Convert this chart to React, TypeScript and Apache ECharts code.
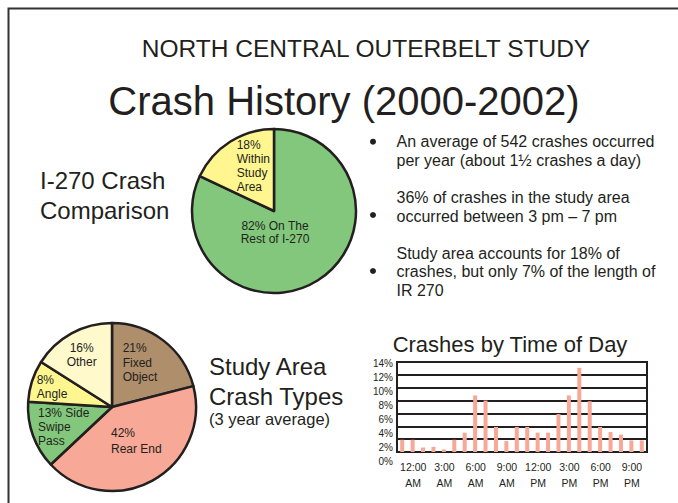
import React, { useEffect, useRef } from "react";
import * as echarts from "echarts";

// ---- Data ----
const comparisonNames = ["On The Rest of I-270", "Within Study Area"];
const comparisonValues = [82, 18];

const crashTypeNames = ["Fixed Object", "Rear End", "Side Swipe Pass", "Angle", "Other"];
const crashTypeValues = [21, 42, 13, 8, 16];

const hours = [
  "12 AM", "1 AM", "2 AM", "3 AM", "4 AM", "5 AM", "6 AM", "7 AM", "8 AM", "9 AM", "10 AM", "11 AM",
  "12 PM", "1 PM", "2 PM", "3 PM", "4 PM", "5 PM", "6 PM", "7 PM", "8 PM", "9 PM", "10 PM", "11 PM",
];
const crashShareByHour = [
  1.9, 1.9, 0.7, 0.8, 0.4, 1.9, 3.0, 8.8, 8.0, 3.9, 1.7, 3.9,
  3.9, 3.0, 3.0, 5.9, 8.8, 13.1, 7.9, 3.9, 3.1, 2.7, 1.8, 1.8,
];
const timeTickLabels = ["12:00\nAM", "3:00\nAM", "6:00\nAM", "9:00\nAM", "12:00\nPM", "3:00\nPM", "6:00\nPM", "9:00\nPM"];

const bulletTexts = [
  "An average of 542 crashes occurred\nper year (about 1½ crashes a day)",
  "36% of crashes in the study area\noccurred between 3 pm – 7 pm",
  "Study area accounts for 18% of\ncrashes, but only 7% of the length of\nIR 270",
];

// ---- Styles ----
const INK = "#231F20";
const FONT = "'Liberation Sans', Arial, Helvetica, sans-serif";
const GREEN = "#82C77B";
const YELLOW = "#FFF68F";
const BROWN = "#AE8E6B";
const SALMON = "#F7A896";
const CREAM = "#FFF9CC";

function text(x: number, y: number, t: string, size: number, opts: any = {}) {
  return {
    type: "text",
    x,
    y,
    z: 100,
    silent: true,
    style: {
      text: t,
      fill: INK,
      font: `${size}px ${FONT}`,
      align: opts.align || "left",
      verticalAlign: opts.verticalAlign || "middle",
      lineHeight: opts.lineHeight,
    },
  };
}

export default function App() {
  const ref = useRef<HTMLDivElement>(null);

  useEffect(() => {
    if (!ref.current) return;
    const chart = echarts.init(ref.current, undefined, { renderer: "svg" });

    const cmpLabels = [
      `${comparisonValues[0]}% On The\nRest of I-270`,
      `${comparisonValues[1]}%\nWithin\nStudy\nArea`,
    ];
    const typeLabels = [
      `${crashTypeValues[0]}%\nFixed\nObject`,
      `${crashTypeValues[1]}%\nRear End`,
      `${crashTypeValues[2]}% Side\nSwipe\nPass`,
      `${crashTypeValues[3]}%\nAngle`,
      `${crashTypeValues[4]}%\nOther`,
    ];

    const bulletY = [141.7, 215, 271];
    const paraTop = [132.5, 188.5, 243.8];

    const graphics: any[] = [
      {
        type: "polyline",
        silent: true,
        z: 100,
        shape: { points: [[8.5, 503], [8.5, 8.5], [678, 8.5]] },
        style: { stroke: "#333", lineWidth: 2, fill: null },
      },
      text(366, 48, "NORTH CENTRAL OUTERBELT STUDY", 24.5, { align: "center" }),
      text(344, 100.5, "Crash History (2000-2002)", 40, { align: "center" }),
      text(40, 165, "I-270 Crash\nComparison", 24, { lineHeight: 30, verticalAlign: "top" }),
      text(209, 366.5, "Study Area", 24),
      text(209, 396.5, "Crash Types", 24),
      text(209, 419.3, "(3 year average)", 16.5),
      text(510, 344, "Crashes by Time of Day", 22, { align: "center" }),
      // pie 1 labels
      text(275, 219.3, cmpLabels[0], 12, { align: "center", verticalAlign: "top", lineHeight: 13.4 }),
      text(236.7, 138, cmpLabels[1], 12, { verticalAlign: "top", lineHeight: 13.9 }),
      // pie 2 labels
      text(122.7, 341, typeLabels[0], 12, { verticalAlign: "top", lineHeight: 14.5 }),
      text(111, 425.5, typeLabels[1], 12, { verticalAlign: "top", lineHeight: 15.5 }),
      text(38, 405.7, typeLabels[2], 12, { verticalAlign: "top", lineHeight: 14 }),
      text(36.7, 373, typeLabels[3], 12, { verticalAlign: "top", lineHeight: 14 }),
      text(81.7, 341, typeLabels[4], 12, { align: "center", verticalAlign: "top", lineHeight: 14 }),
    ];

    bulletTexts.forEach((t, i) => {
      graphics.push(text(396.5, paraTop[i], t, 16, { verticalAlign: "top", lineHeight: 18.5 }));
      graphics.push({
        type: "circle",
        silent: true,
        z: 100,
        shape: { cx: 373, cy: bulletY[i], r: 3 },
        style: { fill: INK },
      });
    });

    chart.setOption({
      animation: false,
      backgroundColor: "#ffffff",
      textStyle: { fontFamily: FONT },
      grid: [
        {
          left: 397,
          top: 362,
          width: 250,
          height: 90,
          show: true,
          borderColor: INK,
          borderWidth: 2,
          backgroundColor: "transparent",
        },
        { left: 397, top: 363.3, width: 250, height: 97.7 },
      ],
      xAxis: [
        {
          type: "category",
          gridIndex: 0,
          data: hours,
          boundaryGap: true,
          axisLine: { show: false },
          axisTick: { show: false },
          axisLabel: {
            interval: 0,
            showMinLabel: true,
            showMaxLabel: true,
            hideOverlap: false,
            formatter: (_v: string, idx: number) => (idx % 3 === 0 ? timeTickLabels[idx / 3] : ""),
            fontSize: 10.5,
            lineHeight: 16,
            color: INK,
            fontFamily: FONT,
            margin: 7,
            padding: [0, 0, 0, 22],
          },
          splitLine: { show: false },
        },
        { type: "category", gridIndex: 1, data: hours, show: false },
      ],
      yAxis: [
        {
          type: "value",
          gridIndex: 0,
          min: 0,
          max: 14,
          interval: 2,
          axisLabel: { show: false },
          axisLine: { show: false },
          axisTick: { show: false },
          splitLine: { show: true, lineStyle: { color: INK, width: 2 } },
        },
        {
          type: "value",
          gridIndex: 1,
          min: 0,
          max: 14,
          interval: 2,
          axisLabel: {
            formatter: "{value}%",
            fontSize: 10,
            color: INK,
            fontFamily: FONT,
            margin: 4,
          },
          axisLine: { show: false },
          axisTick: { show: false },
          splitLine: { show: false },
        },
      ],
      series: [
        {
          type: "pie",
          center: [274, 211],
          radius: 82,
          startAngle: 90,
          clockwise: true,
          label: { show: false },
          labelLine: { show: false },
          silent: true,
          itemStyle: { borderColor: INK, borderWidth: 2.5 },
          data: comparisonNames.map((n, i) => ({
            name: n,
            value: comparisonValues[i],
            itemStyle: { color: [GREEN, YELLOW][i] },
          })),
        },
        {
          type: "pie",
          center: [112, 407],
          radius: 84,
          startAngle: 90,
          clockwise: true,
          label: { show: false },
          labelLine: { show: false },
          silent: true,
          itemStyle: { borderColor: INK, borderWidth: 2.5 },
          data: crashTypeNames.map((n, i) => ({
            name: n,
            value: crashTypeValues[i],
            itemStyle: { color: [BROWN, SALMON, GREEN, YELLOW, CREAM][i] },
          })),
        },
        {
          type: "bar",
          xAxisIndex: 0,
          yAxisIndex: 0,
          data: crashShareByHour,
          barWidth: 4,
          itemStyle: { color: SALMON },
          silent: true,
        },
      ],
      graphic: graphics,
    });

    return () => chart.dispose();
  }, []);

  return (
    <div
      ref={ref}
      style={{ position: "absolute", left: 0, top: 0, width: 678, height: 503, background: "#fff" }}
    />
  );
}
